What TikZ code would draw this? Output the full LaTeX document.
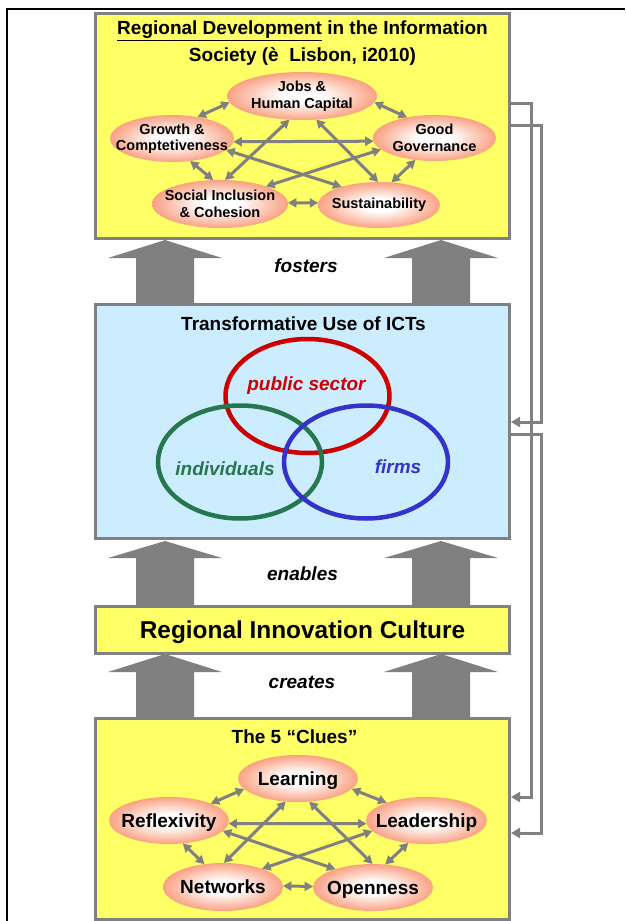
\documentclass[tikz,border=0pt]{standalone}
\usepackage{fontspec}
\setmainfont{Liberation Sans}
\usetikzlibrary{arrows.meta,shapes.geometric}
\definecolor{boxyellow}{RGB}{255,255,102}
\definecolor{boxblue}{RGB}{204,236,255}
\definecolor{linegray}{RGB}{128,128,128}
\definecolor{ballorange}{RGB}{248,130,90}
\definecolor{vennred}{RGB}{204,0,0}
\definecolor{venngreen}{RGB}{38,118,78}
\definecolor{vennblue}{RGB}{51,51,204}
\pgfdeclareradialshading{ballshade}{\pgfpoint{0bp}{0bp}}{color(0bp)=(white); color(7bp)=(white); color(31bp)=(ballorange); color(50bp)=(ballorange)}

\begin{document}
\begin{tikzpicture}[x=1pt,y=-1pt,
    box/.style={draw=linegray, line width=3pt, minimum width=414pt, inner sep=0pt},
    ball/.style={ellipse, shade, shading=ballshade, inner sep=-40pt, outer sep=0pt,
        text height=13.5pt, text depth=0pt, font=\bfseries\fontsize{19}{21}\selectfont},
    smallball/.style={ellipse, shade, shading=ballshade, inner sep=-40pt, outer sep=0pt,
        align=center, font=\bfseries\fontsize{14.5}{16.5}\selectfont},
    link/.style={linegray, line width=3pt, {Triangle[length=8.5pt,width=9pt]}-{Triangle[length=8.5pt,width=9pt]}},
    loopline/.style={linegray, line width=3pt, -{Triangle[length=9pt,width=10pt]}},
    title/.style={font=\bfseries\fontsize{19}{26.5}\selectfont, inner sep=0pt},
    verbtext/.style={font=\bfseries\itshape\fontsize{19}{21}\selectfont, inner sep=0pt, anchor=base},
    venn/.style={line width=4.5pt}]
    \useasboundingbox (0,0) rectangle (625,921);
    \draw[line width=2.5pt] (7,921) -- (7,9) -- (625,9);

    \foreach \ax in {165,441}
        \foreach \tip/\base/\foot in {240/258/305, 541/558/607, 654/672/719}
            \fill[linegray] (\ax-29,\foot) -- (\ax-29,\base) -- (\ax-57,\base) -- (\ax,\tip)
                -- (\ax+57,\base) -- (\ax+29,\base) -- (\ax+29,\foot) -- cycle;

    \node[box, fill=boxyellow, minimum height=224.5pt] (society) at (302.5,125.75) {};
    \node[box, fill=boxblue, minimum height=234pt] (ict) at (302.5,421.5) {};
    \node[box, fill=boxyellow, minimum height=46.5pt, text height=17.5pt, text depth=0pt,
        font=\bfseries\fontsize{24.4}{28}\selectfont] (culture) at (302.5,629.75) {Regional Innovation Culture};
    \node[box, fill=boxyellow, minimum height=201pt] (clues) at (302.5,818.5) {};

    \node[title, align=center, anchor=north] (societytitle) at (302.5,21)
        {\underline{Regional Development} in the Information\\Society (è~~Lisbon, i2010)};
    \node[smallball, minimum width=150pt, minimum height=48pt] (jobs) at (302,96) {Jobs \&\\Human Capital};
    \node[smallball, minimum width=124pt, minimum height=47pt] (growth) at (172,138.5) {Growth \&\\Comptetiveness};
    \node[smallball, minimum width=123pt, minimum height=46pt] (governance) at (434.5,138) {Good\\Governance};
    \node[smallball, minimum width=136pt, minimum height=48pt] (inclusion) at (220,204) {Social Inclusion\\\& Cohesion};
    \node[smallball, minimum width=122pt, minimum height=46pt] (sustain) at (379,205) {Sustainability};
    \draw[link] (growth.40) -- (jobs.185);
    \draw[link] (jobs.355) -- (governance.143);
    \draw[link] (growth.357) -- (governance.183);
    \draw[link] (growth.309) -- (inclusion.106);
    \draw[link] (governance.229) -- (sustain.61);
    \draw[link] (inclusion.1) -- (sustain.178);
    \draw[link] (jobs.242) -- (inclusion.78);
    \draw[link] (jobs.301) -- (sustain.92);
    \draw[link] (growth.348) -- (sustain.154);
    \draw[link] (governance.192) -- (inclusion.21);

    \node[verbtext] (fosters) at (306,272.7) {fosters};
    \node[verbtext] (enables) at (302.5,580) {enables};
    \node[verbtext] (creates) at (302,688.3) {creates};

    \node[title, anchor=base] (icttitle) at (303.5,330) {Transformative Use of ICTs};
    \draw[venn, vennred] (307.5,396) ellipse [x radius=82pt, y radius=57pt];
    \draw[venn, venngreen] (240,462) ellipse [x radius=82pt, y radius=56.5pt];
    \draw[venn, vennblue] (366,462) ellipse [x radius=82pt, y radius=56.5pt];
    \node[verbtext, vennred] (public) at (306.5,390) {public sector};
    \node[verbtext, venngreen] (individuals) at (225,475) {individuals};
    \node[verbtext, vennblue] (firms) at (398,473) {firms};

    \node[title, anchor=base] (cluestitle) at (294.5,743.3) {The 5 ``Clues''};
    \node[ball, minimum width=120pt, minimum height=47pt] (learning) at (298,778.5) {Learning};
    \node[ball, minimum width=120pt, minimum height=47pt] (reflexivity) at (169,820.5) {Reflexivity};
    \node[ball, minimum width=121pt, minimum height=47pt] (leadership) at (426.5,820.5) {Leadership};
    \node[ball, minimum width=120pt, minimum height=48pt] (networks) at (223,887) {Networks};
    \node[ball, minimum width=120pt, minimum height=47pt] (openness) at (373,887.5) {Openness};
    \draw[link] (reflexivity.22) -- (learning.191);
    \draw[link] (learning.349) -- (leadership.156);
    \draw[link] (reflexivity.357) -- (leadership.183);
    \draw[link] (reflexivity.301) -- (networks.129);
    \draw[link] (leadership.231) -- (openness.62);
    \draw[link] (networks.1) -- (openness.179);
    \draw[link] (learning.242) -- (networks.88);
    \draw[link] (learning.296) -- (openness.91);
    \draw[link] (reflexivity.349) -- (openness.154);
    \draw[link] (leadership.191) -- (networks.25);

    \draw[loopline] (society.east |- 0,103) -- ++(20,0) |- (clues.east |- 0,797);
    \draw[loopline] (society.east |- 0,125) -- ++(30,0) |- (ict.east |- 0,422);
    \draw[loopline] (ict.east |- 0,434) -- ++(30,0) |- (clues.east |- 0,833);
\end{tikzpicture}
\end{document}
